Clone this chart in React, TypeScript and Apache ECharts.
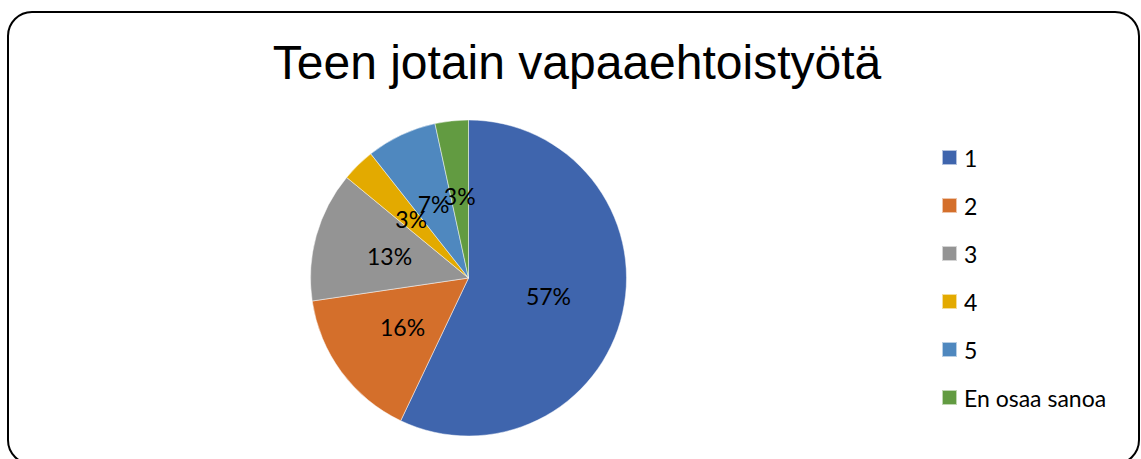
import React, { useEffect, useRef } from "react";
import * as echarts from "echarts";

const titleText = "Teen jotain vapaaehtoistyötä";
const categories = ["1", "2", "3", "4", "5", "En osaa sanoa"];
const shares = [57.0, 15.6, 13.3, 3.4, 7.2, 3.4];
const colors = ["#3F65AD", "#D46F2B", "#949494", "#E3AA00", "#4F88BF", "#629B41"];

export default function App() {
  const ref = useRef<HTMLDivElement>(null);
  useEffect(() => {
    if (!ref.current) return;
    const chart = echarts.init(ref.current, null, { renderer: "svg" });
    const font = "Lato, 'Open Sans', sans-serif";
    chart.setOption({
      animation: false,
      backgroundColor: "#ffffff",
      color: colors,
      graphic: [
        {
          type: "rect",
          shape: { x: 8, y: 12, width: 1131, height: 452, r: 24 },
          style: { fill: "none", stroke: "#000000", lineWidth: 2 },
          silent: true,
        },
        {
          type: "text",
          x: 577,
          y: 38,
          style: {
            text: titleText,
            fontFamily: "'Liberation Sans', Arial, sans-serif",
            fontSize: 48,
            fill: "#000000",
            textAlign: "center",
            textVerticalAlign: "top",
          },
        },
      ],
      legend: {
        orient: "vertical",
        left: 936,
        top: 141,
        padding: 5,
        itemWidth: 15,
        itemHeight: 15,
        itemGap: 25,
        icon: "rect",
        data: categories,
        textStyle: { fontFamily: font, fontSize: 23, lineHeight: 23, color: "#000000", padding: [0, 0, 0, 2] },
      },
      series: [
        {
          type: "pie",
          center: [468.5, 278],
          radius: 158,
          startAngle: 90,
          clockwise: true,
          avoidLabelOverlap: false,
          labelLayout: { hideOverlap: false },
          label: {
            show: true,
            position: "inside",
            fontFamily: font,
            fontSize: 23,
            color: "#000000",
            formatter: (p: any) => Math.round(p.percent) + "%",
          },
          labelLine: { show: false },
          itemStyle: { borderColor: "rgba(255,255,255,0.6)", borderWidth: 0.8 },
          emphasis: { disabled: true },
          data: categories.map((c, i) => ({ name: c, value: shares[i] })),
        },
      ],
    });
    return () => chart.dispose();
  }, []);
  return (
    <div
      ref={ref}
      style={{ position: "fixed", left: 0, top: 0, width: 1141, height: 459, background: "#fff" }}
    />
  );
}
